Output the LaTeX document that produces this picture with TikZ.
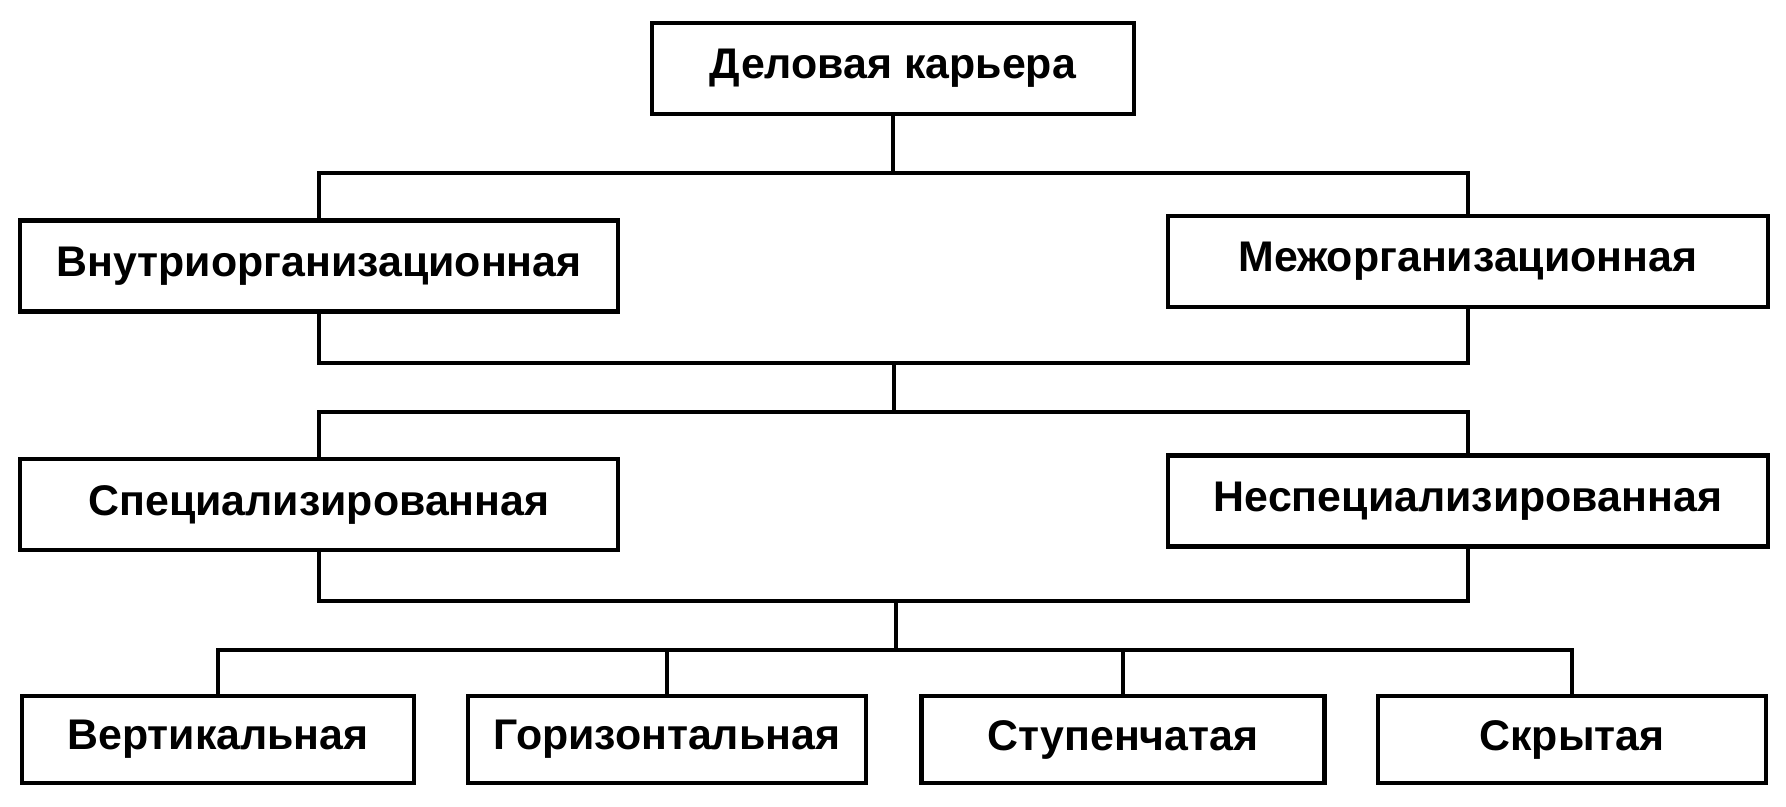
\documentclass[tikz,border=0pt]{standalone}
\usepackage{fontspec}
\setmainfont{Liberation Sans}
\begin{document}
\begin{tikzpicture}[x=0.02cm,y=-0.02cm,
  box/.style={draw, line width=2.4pt, minimum height=1.82cm, inner sep=0pt,
    font=\bfseries\fontsize{24.4}{28}\selectfont},
  link/.style={line width=2.2pt}]
  \useasboundingbox (0,0) rectangle (1786,806);

  \node[box, minimum width=9.64cm] (career) at (893,68.5) {Деловая карьера};
  \node[box, minimum width=11.96cm] (intra) at (319,266) {Внутриорганизационная};
  \node[box, minimum width=12cm] (inter) at (1468,261.5) {Межорганизационная};
  \node[box, minimum width=11.96cm] (spec) at (319,504.5) {Специализированная};
  \node[box, minimum width=12cm] (nonspec) at (1468,501) {Неспециализированная};
  \node[box, minimum width=7.84cm, minimum height=1.74cm] (vert) at (218,739.5) {Вертикальная};
  \node[box, minimum width=7.96cm, minimum height=1.74cm] (horiz) at (667,739.5) {Горизонтальная};
  \node[box, minimum width=8.06cm, minimum height=1.74cm] (stair) at (1123,739.5) {Ступенчатая};
  \node[box, minimum width=7.76cm, minimum height=1.74cm] (hidden) at (1572,739.5) {Скрытая};

  \coordinate (b1) at (893,173);
  \coordinate (b2) at (894,363);
  \coordinate (b3) at (894,412);
  \coordinate (b4) at (896,601);
  \coordinate (b5) at (896,650);

  \draw[link] (career.south) -- (b1);
  \draw[link] (intra.north) |- (b1) -| (inter.north);
  \draw[link] (intra.south) |- (b2) -| (inter.south);
  \draw[link] (b2) -- (b3);
  \draw[link] (spec.north) |- (b3) -| (nonspec.north);
  \draw[link] (spec.south) |- (b4) -| (nonspec.south);
  \draw[link] (b4) -- (b5);
  \draw[link] (vert.north) |- (b5) -| (hidden.north);
  \foreach \n in {horiz,stair}
    \draw[link] (\n.north) -- (\n.north |- b5);
\end{tikzpicture}
\end{document}
